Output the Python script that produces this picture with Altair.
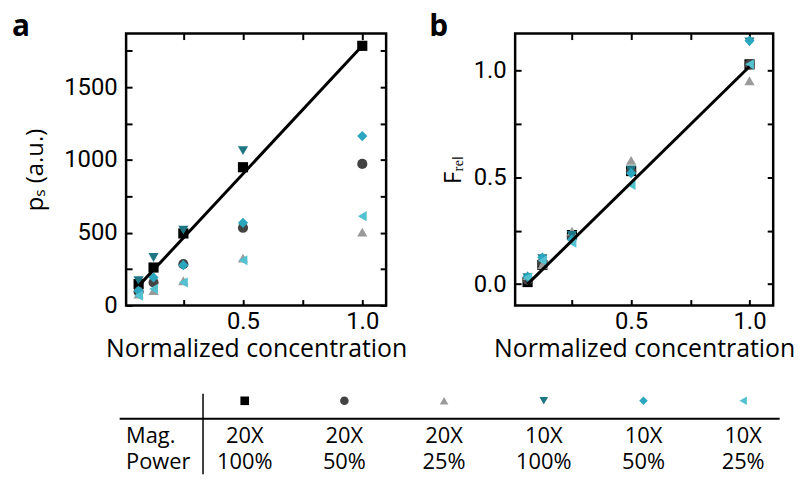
import altair as alt
import pandas as pd

# ---------------- data ----------------
conc = [0.0625, 0.125, 0.25, 0.5, 1.0]
mag = ["20X", "20X", "20X", "10X", "10X", "10X"]
power = ["100%", "50%", "25%", "100%", "50%", "25%"]
series = [f"{m} {p}" for m, p in zip(mag, power)]
shapes = ["square", "circle", "triangle-up", "triangle-down", "diamond", "triangle-left"]
colors = ["#000000", "#434343", "#9a9a9a", "#1d7682", "#2ba6bf", "#53c1d0"]

ps_vals = [
    [148, 261, 495, 950, 1784],
    [95, 159, 284, 534, 973],
    [78, 102, 170, 325, 504],
    [170, 330, 518, 1064, None],
    [102, 193, 277, 568, 1164],
    [68, 114, 159, 311, 614],
]
frel_vals = [
    [0.01, 0.09, 0.23, 0.53, 1.03],
    [0.02, 0.10, 0.225, 0.53, 1.03],
    [0.04, 0.09, 0.248, 0.58, 0.953],
    [0.03, 0.12, 0.228, 0.535, 1.135],
    [0.035, 0.125, 0.209, 0.52, 1.14],
    [0.03, 0.11, 0.194, 0.465, 1.03],
]
fit_x = [0.0625, 1.0]
fit_ps = [135, 1784]
fit_frel = [0.0, 1.02]

# ---------------- tables ----------------
rows = []
for i, (s, pv, fv) in enumerate(zip(series, ps_vals, frel_vals)):
    for c, p, f in zip(conc, pv, fv):
        rows.append({"series": s, "idx": i, "conc": c, "ps": p, "frel": f})
pts = pd.DataFrame(rows)
pts_a = pts.dropna(subset=["ps"])
fit = pd.DataFrame({"conc": fit_x, "ps": fit_ps, "frel": fit_frel})

LABEL_FONT = "Roboto"
TITLE_FONT = "Open Sans"
TICK = 6
X_DOMAIN = [0.01, 1.1]
PLOT_H = 274

color_enc = alt.Color("series:N", scale=alt.Scale(domain=series, range=colors), legend=None)
shape_enc = alt.Shape("series:N", scale=alt.Scale(domain=series, range=shapes), legend=None)


def xaxis(orient, show):
    kw = dict(orient=orient, values=[0.25, 0.5, 0.75, 1.0], offset=-TICK, tickSize=TICK,
              tickWidth=2, tickColor="black", domain=False, grid=False)
    if show:
        kw.update(format=".1f", labelExpr="datum.value == 0.5 || datum.value == 1 ? datum.label : ''",
                  labelFont=LABEL_FONT, labelFontSize=24, labelColor="black", labelPadding=4,
                  labelOverlap=False, labelFlush=False, title="Normalized concentration",
                  titleFont=TITLE_FONT, titleFontSize=25, titleFontWeight="normal",
                  titleColor="black", titlePadding=3)
    else:
        kw.update(labels=False, title=None)
    return alt.Axis(**kw)


def yaxis(orient, show, values, fmt, expr, title, tpad):
    kw = dict(orient=orient, values=values, offset=-TICK, tickSize=TICK, tickWidth=2,
              tickColor="black", domain=False, grid=False)
    if show:
        kw.update(format=fmt, labelExpr=expr, labelFont=LABEL_FONT, labelFontSize=24,
                  labelColor="black", labelPadding=9, labelOverlap=False, labelFlush=False,
                  title=title, titleFont=TITLE_FONT, titleFontSize=24, titleFontWeight="normal",
                  titleColor="black", titlePadding=tpad)
    else:
        kw.update(labels=False, title=None)
    return alt.Axis(**kw)


def panel(df, field, ydomain, yvalues, fmt, expr, title, tpad, letter, lx, w):
    xs = alt.Scale(domain=X_DOMAIN, nice=False, zero=False)
    ys = alt.Scale(domain=ydomain, nice=False, zero=False)
    points = alt.Chart(df).mark_point(filled=True, opacity=1, size=105).encode(
        x=alt.X("conc:Q", scale=xs, axis=xaxis("bottom", True)),
        y=alt.Y(f"{field}:Q", scale=ys, axis=yaxis("left", True, yvalues, fmt, expr, title, tpad)),
        color=color_enc, shape=shape_enc, order=alt.Order("idx:Q"),
    )
    line = alt.Chart(fit).mark_line(color="black", strokeWidth=3).encode(
        x=alt.X("conc:Q", scale=xs, axis=xaxis("top", False)),
        y=alt.Y(f"{field}:Q", scale=ys, axis=yaxis("right", False, yvalues, fmt, expr, title, tpad)),
    )
    lab = alt.Chart(pd.DataFrame({"t": [letter]})).mark_text(
        font=TITLE_FONT, fontSize=30, fontWeight="bold", align="center", baseline="alphabetic",
        color="black").encode(x=alt.value(lx), y=alt.value(2), text="t:N")
    return alt.layer(points, line, lab).properties(width=w, height=PLOT_H)


pa = panel(pts_a, "ps", [0, 1868], list(range(0, 1751, 250)), "d",
           "datum.value % 500 == 0 ? datum.label : ''", "pₛ (a.u.)", 16, "a", -106, 262)
pb = panel(pts, "frel", [-0.1, 1.174], [0, 0.25, 0.5, 0.75, 1.0], ".1f",
           "(datum.value * 2) % 1 == 0 ? datum.label : ''", "Fᵣₑₗ", 8, "b", -77, 260)

top = alt.hconcat(pa, pb, spacing=19)

# ---------------- legend table ----------------
# pixel offsets below are relative to the table's origin (aligned with panel a's plot left)
TW, TH = 655, 88
PX = 100.45
d0 = 1 - 119.5 / PX
d1 = d0 + TW / PX
tx = alt.Scale(domain=[d0, d1], nice=False, zero=False)
cols = list(range(1, len(series) + 1))

sym_df = pd.DataFrame({"col": cols, "series": series})
mag_df = pd.DataFrame({"col": cols, "txt": mag})
pow_df = pd.DataFrame({"col": cols, "txt": power})
head_df = pd.DataFrame({"col": [d0, d0], "txt": ["Mag.", "Power"], "r": [0, 1]})

Y_SYM, Y_LINE, Y_MAG, Y_POW, Y_V0 = 18, 36, 54, 80, 11

TXT = dict(font=TITLE_FONT, fontSize=22, color="black", baseline="middle")
hline = alt.Chart(pd.DataFrame({"k": [0]})).mark_rule(color="black", strokeWidth=2).encode(
    x=alt.value(-6.5), x2=alt.value(658.5), y=alt.value(Y_LINE))
vline = alt.Chart(pd.DataFrame({"k": [0]})).mark_rule(color="black", strokeWidth=1.5).encode(
    x=alt.value(77.5), y=alt.value(Y_V0), y2=alt.value(TH + 4))
syms = alt.Chart(sym_df).mark_point(filled=True, opacity=1, size=75).encode(
    x=alt.X("col:Q", scale=tx, axis=None), y=alt.value(Y_SYM),
    color=color_enc, shape=shape_enc)
mag_t = alt.Chart(mag_df).mark_text(align="center", **TXT).encode(
    x=alt.X("col:Q", scale=tx, axis=None), y=alt.value(Y_MAG), text="txt:N")
pow_t = alt.Chart(pow_df).mark_text(align="center", **TXT).encode(
    x=alt.X("col:Q", scale=tx, axis=None), y=alt.value(Y_POW), text="txt:N")
head_m = alt.Chart(head_df[head_df.r == 0]).mark_text(align="left", **TXT).encode(
    x=alt.X("col:Q", scale=tx, axis=None), y=alt.value(Y_MAG), text="txt:N")
head_p = alt.Chart(head_df[head_df.r == 1]).mark_text(align="left", **TXT).encode(
    x=alt.X("col:Q", scale=tx, axis=None), y=alt.value(Y_POW), text="txt:N")

table = alt.layer(hline, vline, syms, mag_t, pow_t, head_m, head_p).properties(
    width=TW, height=TH, view=alt.ViewConfig(stroke="transparent"))

chart = alt.vconcat(top, table, spacing=18).properties(
    padding={"left": 2, "top": 0, "right": 0, "bottom": 0}
).configure_view(stroke="black", strokeWidth=2.5)

chart.save("out.html", embed_options={"renderer": "svg", "actions": False})
